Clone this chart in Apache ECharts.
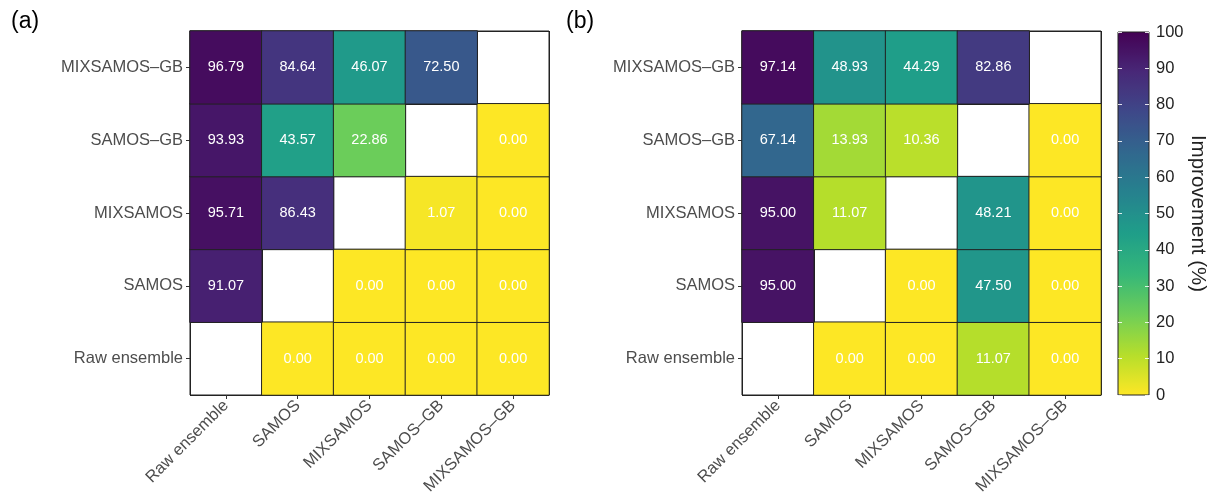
<!DOCTYPE html>
<html><head><meta charset="utf-8">
<script src="https://cdn.jsdelivr.net/npm/echarts@6/dist/echarts.min.js"></script>
<style>html,body{margin:0;padding:0;background:#fff}#c{width:1216px;height:500px}</style>
</head><body><div id="c"></div>
<script>
const models = ['Raw ensemble', 'SAMOS', 'MIXSAMOS', 'SAMOS–GB', 'MIXSAMOS–GB'];
// rows listed bottom (Raw ensemble) to top (MIXSAMOS–GB); columns in models order; null = blank diagonal
const panelA = [
  [null, 0.00, 0.00, 0.00, 0.00],
  [91.07, null, 0.00, 0.00, 0.00],
  [95.71, 86.43, null, 1.07, 0.00],
  [93.93, 43.57, 22.86, null, 0.00],
  [96.79, 84.64, 46.07, 72.50, null]
];
const panelB = [
  [null, 0.00, 0.00, 11.07, 0.00],
  [95.00, null, 0.00, 47.50, 0.00],
  [95.00, 11.07, null, 48.21, 0.00],
  [67.14, 13.93, 10.36, null, 0.00],
  [97.14, 48.93, 44.29, 82.86, null]
];
const panelLabels = ['(a)', '(b)'];
const colorbarTitle = 'Improvement (%)';
const viridisLowToHigh = ['#fde725','#b5de2b','#6ece58','#35b779','#1f9e89','#26828e','#31688e','#3e4989','#482878','#440154'];

function toData(m){
  const out = [];
  m.forEach((row, yi) => row.forEach((v, xi) => { if (v !== null) out.push([xi, yi, v]); }));
  return out;
}
const FONT = 'Liberation Sans, Arial, sans-serif';
const grids = [
  {left: 190, top: 31, width: 359, height: 364},
  {left: 742, top: 31, width: 359, height: 364},
  {left: 1118, top: 32, width: 31, height: 363}
];
function catAxisX(gi){
  return {type:'category', gridIndex: gi, data: models, boundaryGap: true,
    axisLine:{show:false}, axisTick:{show:true, alignWithLabel:true, length:4, lineStyle:{color:'#333'}},
    splitLine:{show:true, lineStyle:{color:'#222', width:1}},
    axisLabel:{rotate:45, fontSize:16.5, color:'#4d4d4d', fontFamily:FONT, margin:8}};
}
function catAxisY(gi){
  return {type:'category', gridIndex: gi, data: models, boundaryGap: true,
    axisLine:{show:false}, axisTick:{show:true, alignWithLabel:true, length:4, lineStyle:{color:'#333'}},
    splitLine:{show:true, lineStyle:{color:'#222', width:1}},
    axisLabel:{fontSize:16.5, color:'#4d4d4d', fontFamily:FONT, margin:7}};
}
const cbTick = {show:true, inside:true, length:4, lineStyle:{color:'rgba(255,255,255,0.85)'}};
const chart = echarts.init(document.getElementById('c'));
chart.setOption({
  animation:false,
  backgroundColor:'#fff',
  title: [
    {text: panelLabels[0], left: 6, top: 5, textStyle:{fontSize:23, fontWeight:'normal', color:'#000', fontFamily:FONT}},
    {text: panelLabels[1], left: 561, top: 5, textStyle:{fontSize:23, fontWeight:'normal', color:'#000', fontFamily:FONT}}
  ],
  grid: grids.map((g, i) => Object.assign({show: true, backgroundColor: i < 2 ? '#fff' : 'transparent', borderColor:'#222', borderWidth:1, z: i===2?10:0}, g)),
  xAxis: [catAxisX(0), catAxisX(1), {type:'category', gridIndex:2, data:[''], show:false}],
  yAxis: [catAxisY(0), catAxisY(1),
    {type:'value', gridIndex:2, min:0, max:100, interval:10, position:'right', z:10,
     axisLine:{show:false}, splitLine:{show:false},
     axisTick: cbTick,
     axisLabel:{fontSize:16.5, color:'#222', fontFamily:FONT, margin:7},
     name: colorbarTitle, nameLocation:'middle', nameRotate:-90, nameGap:37,
     nameTextStyle:{fontSize:20.5, color:'#222', fontFamily:FONT}},
    {type:'value', gridIndex:2, min:0, max:100, interval:10, position:'left', z:10,
     axisLine:{show:false}, splitLine:{show:false},
     axisTick: cbTick, axisLabel:{show:false}}
  ],
  visualMap: {
    type:'continuous', min:0, max:100, seriesIndex:[0,1], calculable:false, realtime:false,
    orient:'vertical', left:1118, top:32, itemWidth:31, itemHeight:363, padding:0,
    text:null, showLabel:false, hoverLink:false,
    inRange:{color: viridisLowToHigh}
  },
  series: [panelA, panelB].map((m, i) => ({
    type:'heatmap', xAxisIndex:i, yAxisIndex:i, data: toData(m),
    itemStyle:{borderColor:'#222', borderWidth:1},
    label:{show:true, color:'#fff', fontSize:14.5, fontFamily:FONT, formatter: p => p.value[2].toFixed(2)}
  }))
});
</script>
</body></html>
